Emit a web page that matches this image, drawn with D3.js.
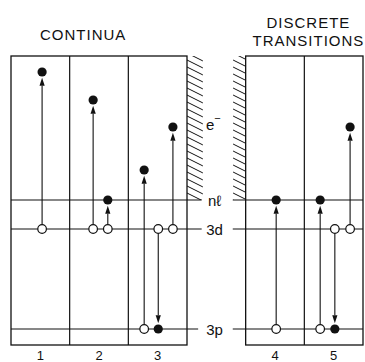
<!DOCTYPE html>
<html>
<head>
<meta charset="utf-8">
<script src="https://cdn.jsdelivr.net/npm/d3@7"></script>
<style>
html,body{margin:0;padding:0;background:#fff;}
svg{display:block;}
text{font-family:"Liberation Sans",Arial,sans-serif;fill:#111;}
</style>
</head>
<body>
<svg id="chart" width="365" height="362"></svg>
<script>
// ---- data ----
const panelLabels = ["1", "2", "3", "4", "5"];
const panelColumns = [0, 1, 2, 4, 5];          // column index of each panel
const groupTitles = ["CONTINUA", "DISCRETE TRANSITIONS"];
const levelNames = ["3p", "3d", "nℓ"];
const levelEnergy = [0, 10, 12.9];
// transitions: panel, slot inside panel, start energy, end energy
const trPanel = [1, 2, 2, 3, 3, 3, 4, 5, 5, 5];
const trSlot  = [0.53, 0.40, 0.65, 0.27, 0.51, 0.76, 0.52, 0.27, 0.52, 0.78];
const trFrom  = [10, 10, 10, 0, 10, 10, 0, 0, 10, 10];
const trTo    = [25.7, 22.9, 12.9, 15.9, 0, 20.2, 12.9, 12.9, 0, 20.2];

// ---- scales ----
const svg = d3.select("#chart");
const x = d3.scaleLinear().domain([0, 6]).range([11, 363]);
const y = d3.scaleLinear().domain([0, 10]).range([329, 229]);
const yTop = 27.3, yBot = -1.6;
const ink = "#111";
const R = 4.3;

// ---- hatching (continuum edge) ----
const defs = svg.append("defs");
const hatchAreas = [[3.0, 3.27], [3.785, 4.0]];
hatchAreas.forEach((a, i) => {
  defs.append("clipPath").attr("id", "hc" + i)
    .append("rect")
    .attr("x", x(a[0])).attr("y", y(yTop))
    .attr("width", x(a[1]) - x(a[0]))
    .attr("height", y(levelEnergy[2]) - y(yTop));
  const g = svg.append("g").attr("clip-path", `url(#hc${i})`);
  const ys = d3.range(y(yTop) - 10, y(levelEnergy[2]) + 4, 7);
  g.selectAll("line").data(ys).join("line")
    .attr("x1", x(a[0])).attr("y1", d => d)
    .attr("x2", x(a[0]) + 16).attr("y2", d => d + 8)
    .attr("stroke", ink).attr("stroke-width", 1);
});

// ---- boxes ----
const boxes = [[0, 3], [4, 6]];
boxes.forEach(b => {
  svg.append("rect")
    .attr("x", x(b[0])).attr("y", y(yTop))
    .attr("width", x(b[1]) - x(b[0]))
    .attr("height", y(yBot) - y(yTop))
    .attr("fill", "none").attr("stroke", ink).attr("stroke-width", 1.3);
});
// panel dividers
svg.selectAll("line.div").data([1, 2, 5]).join("line")
  .attr("class", "div")
  .attr("x1", d => x(d)).attr("x2", d => x(d))
  .attr("y1", y(yTop)).attr("y2", y(yBot))
  .attr("stroke", ink).attr("stroke-width", 1.2);

// ---- level lines ----
const leftEnd = [3.19, 3.25, 3.25];
levelEnergy.forEach((e, i) => {
  svg.append("line")
    .attr("x1", x(0)).attr("x2", x(leftEnd[i]))
    .attr("y1", y(e)).attr("y2", y(e))
    .attr("stroke", ink).attr("stroke-width", 1.1);
  svg.append("line")
    .attr("x1", x(3.78)).attr("x2", x(6))
    .attr("y1", y(e)).attr("y2", y(e))
    .attr("stroke", ink).attr("stroke-width", 1.1);
  svg.append("text")
    .attr("x", x(3.47)).attr("y", y(e) + 5.5)
    .attr("text-anchor", "middle")
    .attr("font-size", 15)
    .text(levelNames[i]);
});

// e- label
const eLab = svg.append("text")
  .attr("x", x(3.45)).attr("y", y(19.9))
  .attr("text-anchor", "middle").attr("font-size", 15);
eLab.append("tspan").text("e");
eLab.append("tspan").attr("dy", -8).attr("font-size", 11).text("−");

// ---- transitions ----
const trans = trPanel.map((p, i) => ({
  cx: x(panelColumns[p - 1] + trSlot[i]),
  y0: y(trFrom[i]), y1: y(trTo[i])
}));
const tg = svg.append("g");
trans.forEach(t => {
  const up = t.y1 < t.y0;
  const dir = up ? -1 : 1;
  const tip = t.y1 - dir * (R + 1.5);
  const base = tip - dir * 8;
  tg.append("line")
    .attr("x1", t.cx).attr("x2", t.cx)
    .attr("y1", t.y0 + dir * R).attr("y2", base)
    .attr("stroke", ink).attr("stroke-width", 1.1);
  tg.append("path")
    .attr("d", `M${t.cx},${tip}L${t.cx - 2.6},${base}L${t.cx + 2.6},${base}Z`)
    .attr("fill", ink);
  tg.append("circle").attr("cx", t.cx).attr("cy", t.y0).attr("r", R)
    .attr("fill", "#fff").attr("stroke", ink).attr("stroke-width", 1.2);
  tg.append("circle").attr("cx", t.cx).attr("cy", t.y1).attr("r", R + 0.3)
    .attr("fill", ink);
});

// ---- titles ----
svg.append("text").attr("x", x(1.23)).attr("y", 40)
  .attr("text-anchor", "middle").attr("font-size", 15)
  .attr("letter-spacing", 1).text(groupTitles[0]);
const dt = groupTitles[1].split(" ");
svg.append("text").attr("x", x(5.07)).attr("y", 28)
  .attr("text-anchor", "middle").attr("font-size", 15)
  .attr("letter-spacing", 1).text(dt[0]);
svg.append("text").attr("x", x(5.07)).attr("y", 46)
  .attr("text-anchor", "middle").attr("font-size", 15)
  .attr("letter-spacing", 1).text(dt[1]);

// ---- panel numbers ----
svg.selectAll("text.pl").data(panelLabels).join("text")
  .attr("class", "pl")
  .attr("x", (d, i) => x(panelColumns[i] + 0.5))
  .attr("y", 360)
  .attr("text-anchor", "middle").attr("font-size", 13)
  .text(d => d);
</script>
</body>
</html>
